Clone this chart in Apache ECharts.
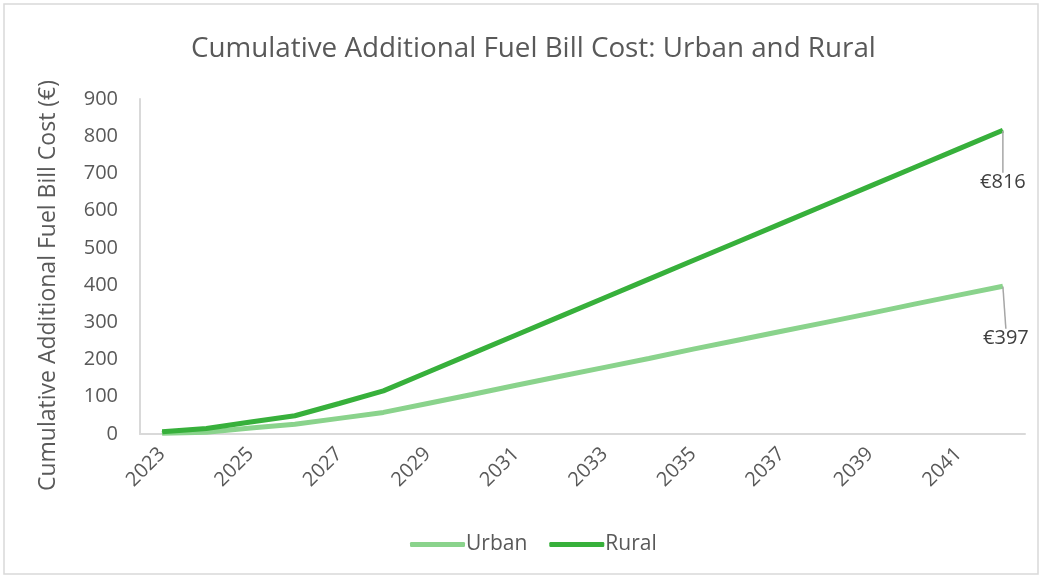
<!DOCTYPE html>
<html>
<head>
<meta charset="utf-8">
<script src="https://cdn.jsdelivr.net/npm/echarts@6/dist/echarts.min.js"></script>
<style>html,body{margin:0;padding:0;background:#fff}#c{width:1043px;height:579px}</style>
</head>
<body>
<div id="c"></div>
<script>
const years = ['2023','2024','2025','2026','2027','2028','2029','2030','2031','2032','2033','2034','2035','2036','2037','2038','2039','2040','2041','2042'];
const urban = [2,5,16,26,42,58,82,106,131,155,179,203,228,252,276,300,324,349,373,397];
const rural = [6,15,32,49,82,116,166,216,266,316,366,416,466,516,566,616,666,716,766,816];
const yTicks = [0,100,200,300,400,500,600,700,800,900];
const titleText = 'Cumulative Additional Fuel Bill Cost: Urban and Rural';
const yName = 'Cumulative Additional Fuel Bill Cost (€)';

const FONT = '"Open Sans", "Noto Sans", sans-serif';
const TXT = '#595959';
const chart = echarts.init(document.getElementById('c'));

function withEndLabel(arr) {
  return arr.map((v, i) => i === arr.length - 1 ? {
    value: v,
    label: {show: true, position: 'bottom', distance: 0, formatter: '€{c}', color: '#404040', fontSize: 20, fontFamily: FONT},
    labelLine: {show: true, lineStyle: {color: '#a6a6a6', width: 1.5}}
  } : v);
}

chart.setOption({
  animation: false,
  graphic: [{type: 'rect', shape: {x: 4, y: 4, width: 1034, height: 570}, style: {fill: 'none', stroke: '#d9d9d9', lineWidth: 1.5}, silent: true}],
  title: {text: titleText, left: 186, top: 30, textStyle: {color: TXT, fontSize: 27.8, fontWeight: 'normal', fontFamily: FONT}},
  grid: {left: 140, right: 18, top: 99, bottom: 145},
  legend: {
    bottom: 19, left: 405, itemWidth: 55, itemHeight: 5, itemGap: 22, icon: 'roundRect',
    textStyle: {color: TXT, fontSize: 21, fontFamily: FONT, padding: [0,0,0,-4]},
    data: ['Urban', 'Rural']
  },
  xAxis: {
    type: 'category', data: years, boundaryGap: true,
    axisLine: {lineStyle: {color: '#d9d9d9', width: 2}},
    axisTick: {show: false},
    axisLabel: {interval: 1, rotate: 45, color: TXT, fontSize: 20, fontFamily: FONT, margin: 17}
  },
  yAxis: {
    type: 'value', min: yTicks[0], max: yTicks[yTicks.length-1], interval: 100,
    name: yName, nameLocation: 'middle', nameGap: 80, nameRotate: 90,
    nameTextStyle: {color: TXT, fontSize: 23, fontFamily: FONT, padding: [0, 38, 0, 0]},
    axisLine: {show: true, lineStyle: {color: '#d9d9d9', width: 2}},
    axisTick: {show: false},
    splitLine: {show: false},
    axisLabel: {color: TXT, fontSize: 20, fontFamily: FONT, margin: 22}
  },
  series: [
    {name: 'Urban', type: 'line', data: withEndLabel(urban), symbol: 'circle', symbolSize: 1, showSymbol: true, lineStyle: {color: '#8ad38c', width: 5}, itemStyle: {color: '#8ad38c'},
     labelLayout: {dx: 3, dy: 42}},
    {name: 'Rural', type: 'line', data: withEndLabel(rural), symbol: 'circle', symbolSize: 1, showSymbol: true, lineStyle: {color: '#37b03b', width: 5}, itemStyle: {color: '#37b03b'},
     labelLayout: {dx: 0, dy: 42}}
  ]
});
</script>
</body>
</html>
